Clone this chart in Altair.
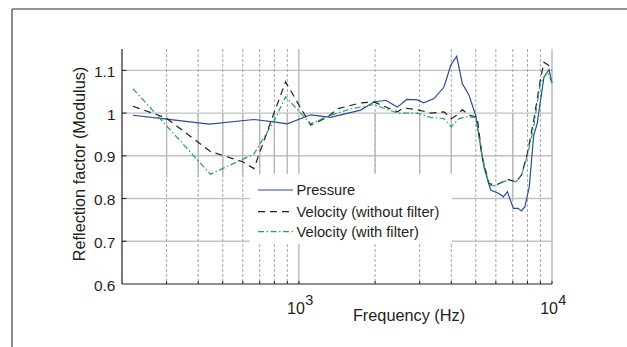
import altair as alt
import pandas as pd

# ---------------- data ----------------
p_freq = [221, 300, 443, 664, 809, 900, 1112, 1334, 1754, 1979, 2203, 2449, 2668, 2938, 3112, 3420,
          3743, 3981, 4201, 4423, 4699, 4991, 5382, 5722, 6170, 6426, 6664, 7038, 7338, 7575, 7815,
          8130, 8466, 8736, 9290, 9737, 10000]
p_val = [0.995, 0.986, 0.974, 0.985, 0.979, 0.975, 0.996, 0.990, 1.007, 1.026, 1.030, 1.014, 1.032,
         1.031, 1.024, 1.034, 1.061, 1.112, 1.133, 1.069, 1.042, 0.995, 0.874, 0.820, 0.812, 0.804,
         0.816, 0.777, 0.777, 0.771, 0.781, 0.827, 0.948, 0.975, 1.084, 1.102, 1.070]

vn_freq = [221, 300, 447, 600, 664, 796, 886, 1112, 1300, 1419, 1754, 1979, 2449, 2590, 2938, 3316,
           3743, 4000, 4201, 4423, 4699, 5060, 5300, 5640, 6010, 6664, 7200, 7575, 7990, 8466,
           8990, 9290, 9900, 10000]
vn_val = [1.016, 0.988, 0.910, 0.886, 0.870, 0.999, 1.073, 0.972, 0.991, 1.010, 1.024, 1.026, 1.003,
          1.012, 1.008, 1.000, 1.003, 0.987, 0.995, 1.008, 0.995, 0.991, 0.897, 0.835, 0.831, 0.845,
          0.839, 0.855, 0.905, 0.983, 1.077, 1.119, 1.108, 1.100]

vf_freq = [221, 447, 664, 800, 886, 1112, 1334, 1600, 1979, 2449, 2938, 3316, 3743, 4000, 4290,
           4600, 5000, 5300, 5640, 5900, 6664, 7200, 7575, 7990, 8466, 8990, 9600, 10000]
vf_val = [1.057, 0.857, 0.904, 0.983, 1.038, 0.975, 0.995, 1.010, 1.020, 1.000, 1.000, 0.990, 0.987,
          0.968, 0.987, 0.991, 0.990, 0.897, 0.831, 0.830, 0.843, 0.839, 0.855, 0.900, 0.968, 1.070,
          1.096, 1.070]

minor_f = [300, 400, 500, 600, 700, 800, 900, 2000, 3000, 4000, 5000, 6000, 7000, 8000, 9000]
major_f = [1000, 10000]
seg_f = [300, 400, 500, 600, 700, 800, 900, 2000, 3000, 4000, 7000]
seg_top = [1.0] * 11
seg_bot = [0.85] * 10 + [0.80]
y_ticks = [0.6, 0.7, 0.8, 0.9, 1.0, 1.1]
y_labels = ["0.6", "0.7", "0.8", "0.9", "1", "1.1"]
x_base = ["10", "10"]
x_exp = ["3", "4"]
legend_names = ["Pressure", "Velocity (without filter)", "Velocity (with filter)"]

# ---------------- styling ----------------
W, H = 430, 235
FONT = "Liberation Sans"
TXT = "#231f20"
BLUE = "#2a4a9e"
BLACK = "#231f20"
GREEN = "#22a557"
DASH_N = [7, 5]
DASH_F = [6, 2.5, 1.5, 2.5]

xs = alt.Scale(type="log", domain=[200, 10000])
ys = alt.Scale(domain=[0.6, 1.15])
one = pd.DataFrame({"a": [0]})


def X(field="f"):
    return alt.X(f"{field}:Q", scale=xs, axis=None)


def Y(field="v"):
    return alt.Y(f"{field}:Q", scale=ys, axis=None)


layers = []

# horizontal grid
layers.append(alt.Chart(pd.DataFrame({"v": y_ticks[1:]})).mark_rule(color="#c2c2c2", strokeWidth=1.4)
              .encode(y=Y()))
# vertical dashed minor grid
layers.append(alt.Chart(pd.DataFrame({"f": minor_f})).mark_rule(color="#a6a6a6", strokeWidth=1,
                                                                 strokeDash=[3, 2])
              .encode(x=X()))
# vertical solid segments
layers.append(alt.Chart(pd.DataFrame({"f": seg_f, "a": seg_top, "b": seg_bot}))
              .mark_rule(color="#b8b8b8", strokeWidth=1.4)
              .encode(x=X(), y=Y("a"), y2="b:Q"))
# vertical major grid
layers.append(alt.Chart(pd.DataFrame({"f": major_f})).mark_rule(color="#b8b8b8", strokeWidth=1.4)
              .encode(x=X()))

# legend box (white background)
layers.append(alt.Chart(one).mark_rect(fill="white")
              .encode(x=alt.value(128), x2=alt.value(330), y=alt.value(125), y2=alt.value(195)))

# data lines
layers.append(alt.Chart(pd.DataFrame({"f": p_freq, "v": p_val}))
              .mark_line(color=BLUE, strokeWidth=1.2).encode(x=X(), y=Y()))
layers.append(alt.Chart(pd.DataFrame({"f": vn_freq, "v": vn_val}))
              .mark_line(color=BLACK, strokeWidth=1.2, strokeDash=DASH_N).encode(x=X(), y=Y()))
layers.append(alt.Chart(pd.DataFrame({"f": vf_freq, "v": vf_val}))
              .mark_line(color=GREEN, strokeWidth=1.2, strokeDash=DASH_F).encode(x=X(), y=Y()))

# axis lines
layers.append(alt.Chart(one).mark_rule(color=TXT, strokeWidth=1.2)
              .encode(x=alt.value(0), y=alt.value(0), y2=alt.value(H)))
layers.append(alt.Chart(one).mark_rule(color=TXT, strokeWidth=1.2)
              .encode(x=alt.value(0), x2=alt.value(W), y=alt.value(H)))
# inward ticks
layers.append(alt.Chart(pd.DataFrame({"v": y_ticks[1:]})).mark_rule(color=TXT, strokeWidth=1)
              .encode(y=Y(), x=alt.value(0), x2=alt.value(4.5)))
layers.append(alt.Chart(pd.DataFrame({"f": minor_f + major_f})).mark_rule(color=TXT, strokeWidth=1)
              .encode(x=X(), y=alt.value(H), y2=alt.value(H - 3)))

# y tick labels
layers.append(alt.Chart(pd.DataFrame({"v": y_ticks, "t": y_labels}))
              .mark_text(align="right", baseline="alphabetic", dy=6.5, font=FONT, fontSize=15.5, color=TXT)
              .encode(y=Y(), x=alt.value(-6.5), text="t:N"))
# x tick labels with superscript
layers.append(alt.Chart(pd.DataFrame({"f": major_f, "t": x_base}))
              .mark_text(align="right", baseline="alphabetic", dx=6, font=FONT, fontSize=16, color=TXT)
              .encode(x=X(), y=alt.value(264.5), text="t:N"))
layers.append(alt.Chart(pd.DataFrame({"f": major_f, "t": x_exp}))
              .mark_text(align="left", baseline="alphabetic", dx=6.3, font=FONT, fontSize=14.5, color=TXT)
              .encode(x=X(), y=alt.value(256), text="t:N"))

# axis titles
layers.append(alt.Chart(one).mark_text(align="center", baseline="alphabetic", font=FONT, fontSize=16.3,
                                       color=TXT)
              .encode(x=alt.value(287), y=alt.value(271.7), text=alt.value("Frequency (Hz)")))
layers.append(alt.Chart(one).mark_text(align="center", baseline="alphabetic", angle=270, font=FONT,
                                       fontSize=16.3, color=TXT)
              .encode(x=alt.value(-37.3), y=alt.value(115), text=alt.value("Reflection factor (Modulus)")))

# legend entries
rows = [141, 162.7, 182.7]
styles = [dict(color=BLUE), dict(color=BLACK, strokeDash=DASH_N), dict(color=GREEN, strokeDash=DASH_F)]
for name, ry, st in zip(legend_names, rows, styles):
    layers.append(alt.Chart(one).mark_rule(strokeWidth=1.2, **st)
                  .encode(x=alt.value(136), x2=alt.value(171), y=alt.value(ry)))
    layers.append(alt.Chart(one).mark_text(align="left", baseline="alphabetic", font=FONT, fontSize=14.7,
                                           color=TXT)
                  .encode(x=alt.value(174.5), y=alt.value(ry + 5.3), text=alt.value(name)))

# outer frame (partially visible)
layers.append(alt.Chart(one).mark_rule(color="#707070", strokeWidth=1.6)
              .encode(x=alt.value(-110), y=alt.value(-40), y2=alt.value(300)))
layers.append(alt.Chart(one).mark_rule(color="#707070", strokeWidth=1.6)
              .encode(x=alt.value(-110), x2=alt.value(510), y=alt.value(-40)))

chart = alt.layer(*layers).properties(
    width=W, height=H,
    autosize=alt.AutoSizeParams(type="none"),
    padding={"left": 122, "top": 49, "right": 75, "bottom": 63},
    background="white",
).configure_view(stroke=None)

chart.save("out.html", embed_options={"renderer": "svg", "actions": False})
